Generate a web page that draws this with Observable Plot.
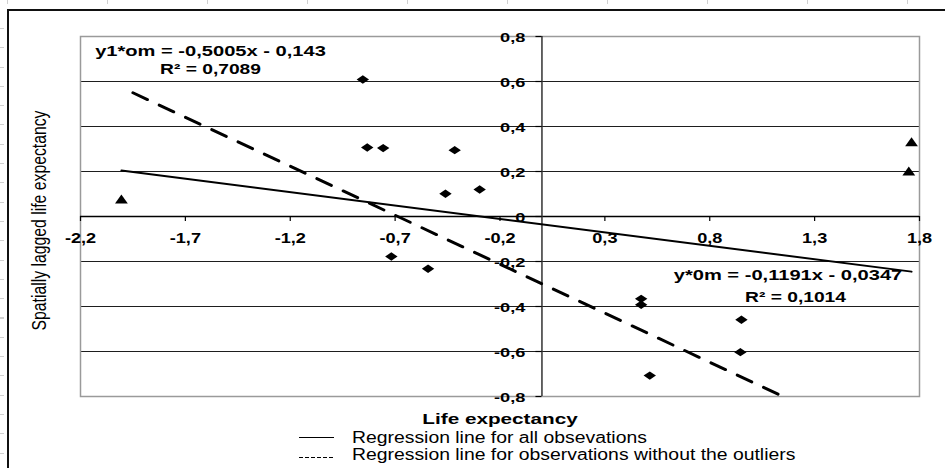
<!DOCTYPE html>
<html>
<head>
<meta charset="utf-8">
<script src="https://cdn.jsdelivr.net/npm/d3@7"></script>
<script src="https://cdn.jsdelivr.net/npm/@observablehq/plot@0.6"></script>
<style>
  html, body { margin: 0; padding: 0; background: #fff; width: 945px; height: 468px; overflow: hidden;
    font-family: "Liberation Sans", Arial, sans-serif; }
  #wrap { position: relative; width: 945px; height: 468px; }
  #outer { position: absolute; left: 7px; top: 9px; width: 1000px; height: 520px;
    border-left: 2px solid #111; border-top: 2px solid #111; pointer-events: none; }
  #rulerTop { position: absolute; left: 7px; top: 0; width: 938px; height: 4px;
    background: repeating-linear-gradient(to right, #d0d0d0 0 1px, transparent 1px 100px); }
  #rulerLeft { position: absolute; left: 0; top: 28px; width: 4px; height: 440px;
    background: repeating-linear-gradient(to bottom, #d0d0d0 0 1px, transparent 1px 19.3px); }
  #chart { position: absolute; left: 0; top: 0; }
  #legend { position: absolute; left: 0; top: 430px; width: 945px; height: 38px; }
  .sample { position: absolute; left: 299px; width: 35px; height: 1px; }
  .solid { background: #000; }
  .dashed { background: repeating-linear-gradient(to right, #000 0 4px, transparent 4px 6px); }
  .ltext { position: absolute; left: 351.5px; font-size: 16px; line-height: 16px; color: #000;
    white-space: nowrap; transform-origin: 0 50%; }
</style>
</head>
<body>
<div id="wrap">
  <div id="rulerTop"></div>
  <div id="rulerLeft"></div>
  <div id="chart"></div>
  <div id="outer"></div>
  <div id="legend"></div>
</div>
<script>
// ---- data ----
const xTicks = [-2.2, -1.7, -1.2, -0.7, -0.2, 0.3, 0.8, 1.3, 1.8];
const yTicks = [-0.8, -0.6, -0.4, -0.2, 0, 0.2, 0.4, 0.6, 0.8];
const gridY = [-0.6, -0.4, -0.2, 0.2, 0.4, 0.6];

// observations (diamonds)
const obsX = [-0.854, -0.833, -0.757, -0.416, -0.46, -0.297, -0.718, -0.543, 0.473, 0.473, 0.514, 0.951, 0.946];
const obsY = [0.609, 0.307, 0.304, 0.295, 0.101, 0.12, -0.178, -0.232, -0.366, -0.392, -0.707, -0.459, -0.603];
// outliers (triangles)
const outX = [-2.005, 1.762, 1.749];
const outY = [0.076, 0.33, 0.2];

// regression lines (end points)
const allLineX = [-2.005, 1.762];
const allLineY = [0.204, -0.245];
const noOutLineX = [-1.95, 1.15];
const noOutLineY = [0.55, -0.80];

const eqNoOut = ["y1*om = -0,5005x - 0,143", "R² = 0,7089"];
const eqAll = ["y*0m = -0,1191x - 0,0347", "R² = 0,1014"];
const xTitle = "Life expectancy";
const yTitle = "Spatially lagged life expectancy";
const legendLabels = ["Regression line for all obsevations", "Regression line for observations without the outliers"];

// ---- build ----
const fmt = d => String(d).replace(".", ",");
const obs = obsX.map((x, i) => ({x, y: obsY[i]}));
const outl = outX.map((x, i) => ({x, y: outY[i]}));
const allLine = allLineX.map((x, i) => ({x, y: allLineY[i]}));
const noOutLine = noOutLineX.map((x, i) => ({x, y: noOutLineY[i]}));

const wideDiamond = {
  draw(ctx, size) {
    const s = Math.sqrt(size / Math.PI);
    const w = 1.55 * s, h = 1.05 * s;
    ctx.moveTo(-w, 0); ctx.lineTo(0, -h); ctx.lineTo(w, 0); ctx.lineTo(0, h); ctx.closePath();
  }
};
const wideTriangle = {
  draw(ctx, size) {
    const s = Math.sqrt(size / Math.PI);
    ctx.moveTo(0, -1.25 * s); ctx.lineTo(1.6 * s, 1.0 * s); ctx.lineTo(-1.6 * s, 1.0 * s); ctx.closePath();
  }
};

const font = '"Liberation Sans", Arial, sans-serif';
const eqStyle = {fontWeight: "bold", fontSize: 15, fill: "#000", text: d => d, textAnchor: "middle", lineAnchor: "middle"};

const chart = Plot.plot({
  width: 945,
  height: 430,
  marginLeft: 80,
  marginRight: 26,
  marginTop: 36,
  marginBottom: 34,
  x: {domain: [-2.2, 1.8], axis: null},
  y: {domain: [-0.8, 0.8], axis: null},
  style: {fontFamily: font, background: "transparent", overflow: "visible", color: "#000"},
  marks: [
    Plot.ruleY(gridY, {y: d => d, stroke: "#1e1e1e", strokeWidth: 1}),
    Plot.frame({stroke: "#9a9a9a", strokeWidth: 1.5}),
    Plot.ruleY([0], {y: d => d, stroke: "#000", strokeWidth: 1.5}),
    Plot.ruleX([0], {x: d => d, stroke: "#333", strokeWidth: 1.5}),
    Plot.ruleX(xTicks, {x: d => d, y1: 0, y2: 0, insetBottom: -5, stroke: "#000", strokeWidth: 1.2}),
    Plot.ruleY(yTicks, {y: d => d, x1: 0, x2: 0, insetLeft: -6, stroke: "#000", strokeWidth: 1.2}),
    Plot.text(xTicks, {x: d => d, y: 0, text: fmt, dy: 21.5, fontWeight: "bold", fontSize: 14.5, fill: "#000", ariaDescription: "xticks"}),
    Plot.text(yTicks, {x: 0, y: d => d, text: fmt, textAnchor: "end", dx: -16.5, dy: 1, fontWeight: "bold", fontSize: 13.5, fill: "#000", ariaDescription: "yticks"}),
    Plot.line(allLine, {x: "x", y: "y", stroke: "#000", strokeWidth: 2}),
    Plot.line(noOutLine, {x: "x", y: "y", stroke: "#000", strokeWidth: 3, strokeDasharray: "16,13"}),
    Plot.dot(obs, {x: "x", y: "y", symbol: wideDiamond, r: 4, fill: "#000", stroke: "none"}),
    Plot.dot(outl, {x: "x", y: "y", symbol: wideTriangle, r: 4, fill: "#000", stroke: "none"}),
    Plot.text([eqNoOut[0]], {...eqStyle, frameAnchor: "top-left", dx: 130, dy: 14.3, ariaDescription: "eq"}),
    Plot.text([eqNoOut[1]], {...eqStyle, frameAnchor: "top-left", dx: 130, dy: 33, ariaDescription: "eq2"}),
    Plot.text([eqAll[0]], {...eqStyle, frameAnchor: "top-right", dx: -131.5, dy: 238.9, ariaDescription: "eq"}),
    Plot.text([eqAll[1]], {...eqStyle, frameAnchor: "top-right", dx: -124, dy: 260.8, ariaDescription: "eq2"}),
    Plot.text([xTitle], {text: d => d, frameAnchor: "bottom", textAnchor: "middle", lineAnchor: "middle", dy: 22.3, fontWeight: "bold", fontSize: 15, fill: "#000", ariaDescription: "xtitle"}),
    Plot.text([yTitle], {text: d => d, frameAnchor: "left", textAnchor: "middle", lineAnchor: "middle", rotate: -90, dx: -41, dy: 4, fontSize: 20, fill: "#000", ariaDescription: "ytitle"})
  ]
});

document.getElementById("chart").append(chart);

function stretch(label, factor, fixed) {
  chart.querySelectorAll(`g[aria-description="${label}"] text`).forEach(t => {
    const L = t.getComputedTextLength();
    t.setAttribute("textLength", fixed != null ? fixed : L * factor);
    t.setAttribute("lengthAdjust", "spacingAndGlyphs");
  });
}
stretch("xticks", 1.25);
stretch("yticks", 1.35);
stretch("eq", 1.34);
stretch("eq2", 1.28);
stretch("xtitle", 1.38);
stretch("ytitle", null, 220);

// legend (below the svg)
const legend = d3.select("#legend");
const rows = [{cls: "solid", line: 6.5, top: -0.3}, {cls: "dashed", line: 26.5, top: 16.5}];
legendLabels.forEach((t, i) => {
  legend.append("div").attr("class", "sample " + rows[i].cls).style("top", rows[i].line + "px");
  legend.append("div").attr("class", "ltext").style("top", rows[i].top + "px")
    .style("transform", "scaleX(1.21)").text(t);
});
</script>
</body>
</html>
